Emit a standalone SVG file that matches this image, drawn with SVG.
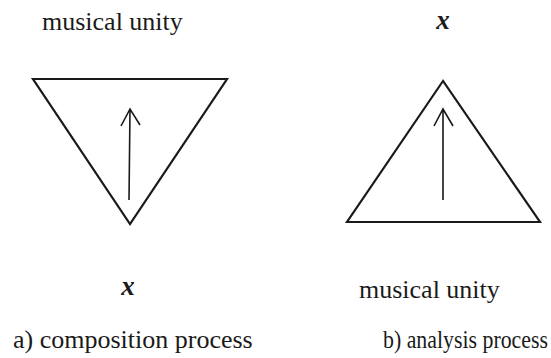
<svg xmlns="http://www.w3.org/2000/svg" width="551" height="358" viewBox="0 0 551 358">
<style>
.t{font-family:"Liberation Serif","Times New Roman",serif;font-size:26px;fill:#1a1a1a}
.x{font-family:"Liberation Serif","Times New Roman",serif;font-size:27px;font-style:italic;font-weight:bold;fill:#1a1a1a}
.tri{fill:none;stroke:#1a1a1a;stroke-width:2.2;stroke-linejoin:miter}
.ar{fill:none;stroke:#1a1a1a;stroke-width:1.6}
</style>
<rect width="551" height="358" fill="#fff"/>
<g id="composition">
<text class="t" x="42" y="30">musical unity</text>
<polygon id="tri-a" class="tri" points="33,79 227,79 130,224"/>
<text class="x" x="128" y="295" text-anchor="middle">x</text>
<text class="t" x="13" y="348">a) composition process</text>
</g>
<g id="analysis">
<text class="x" x="443" y="29" text-anchor="middle">x</text>
<polygon id="tri-b" class="tri" points="443,81 347,222 540,222"/>
<text class="t" x="359" y="298">musical unity</text>
<text class="t" x="383" y="348" style="font-size:25px" textLength="165" lengthAdjust="spacingAndGlyphs">b) analysis process</text>
</g>
<g id="connectors">
<path class="ar" d="M129,200 L130,109 M121,126 L130,109 L140,125"/>
<path class="ar" d="M443,200 L443,109 M434,126 L443,109 L453,126"/>
</g>
</svg>
